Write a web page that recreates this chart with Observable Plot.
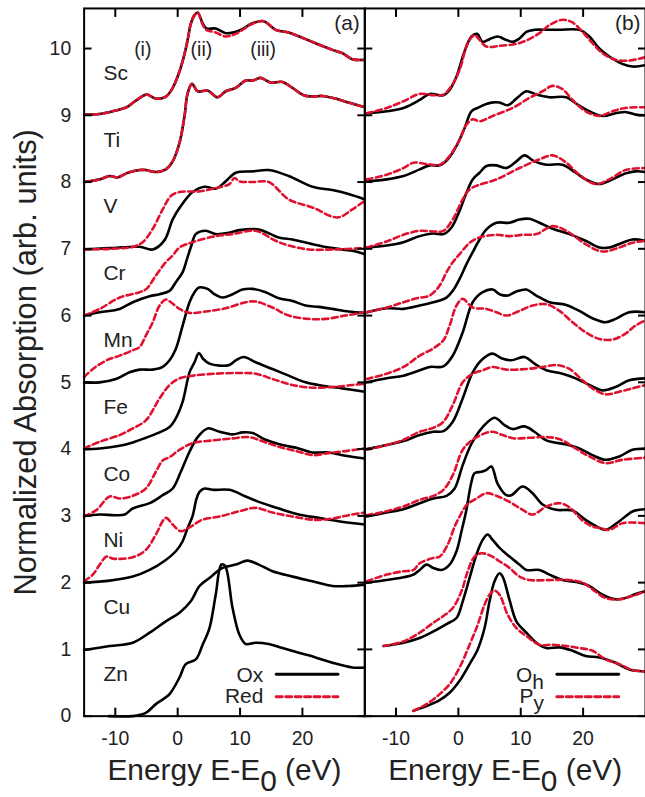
<!DOCTYPE html>
<html><head><meta charset="utf-8">
<script src="https://cdn.jsdelivr.net/npm/d3@7"></script>
<script src="https://cdn.jsdelivr.net/npm/@observablehq/plot@0.6"></script>
<style>
html,body{margin:0;padding:0;overflow:hidden;background:#fff;}
#chart{position:relative;width:645px;height:797px;overflow:hidden;}
</style>
</head><body><div id="chart"></div>
<script>
// ---------- categories & labels ----------
const elements = ["Sc","Ti","V","Cr","Mn","Fe","Co","Ni","Cu","Zn"];
const xTicks = [-10, 0, 10, 20];
const yTicks = [0,1,2,3,4,5,6,7,8,9,10];
const features = [{panel:"a", label:"(i)", x:-5.6},{panel:"a", label:"(ii)", x:3.8},{panel:"a", label:"(iii)", x:13.7}];
const panelTags = [{panel:"a", t:"(a)"},{panel:"b", t:"(b)"}];
const legendItems = [
  {panel:"a", label:"Ox", row:0},{panel:"a", label:"Red", row:1},
  {panel:"b", label:"O_h", row:0},{panel:"b", label:"P_y", row:1}
];
const xLabel = "Energy E-E_0 (eV)";
const yLabel = "Normalized Absorption (arb. units)";

// ---------- panel (a): Ox (solid) / Red (dashed) ----------
const aScOx = [[-15,9.01],[-12.5,9.02],[-10,9.07],[-8.2,9.12],[-6.7,9.22],[-5,9.31],[-3.5,9.25],[-1.9,9.28],[-0.8,9.41],[0.3,9.66],[1.1,9.92],[1.6,10.13],[2.1,10.37],[2.7,10.5],[3.2,10.54],[4.0,10.38],[4.6,10.3],[6.1,10.3],[7.7,10.23],[9.9,10.27],[12,10.38],[13.8,10.41],[15.7,10.28],[17.8,10.24],[20.5,10.14],[22.6,10.06],[24.8,9.98],[26.4,9.93],[28,9.84],[30,9.83]];
const aScRed = [[-15,9.01],[-12.5,9.02],[-10,9.07],[-8.2,9.12],[-6.7,9.22],[-5,9.31],[-3.5,9.25],[-1.9,9.28],[-0.8,9.41],[0.3,9.66],[1.1,9.92],[1.6,10.13],[2.1,10.37],[2.7,10.5],[3.2,10.54],[4.0,10.36],[4.6,10.28],[6.1,10.24],[7.7,10.18],[9.3,10.22],[12,10.37],[13.8,10.41],[15.7,10.28],[17.8,10.24],[20.5,10.14],[22.6,10.06],[24.8,9.98],[26.4,9.93],[28,9.84],[30,9.83]];
const aTiOx = [[-15,8.0],[-12.5,8.04],[-10.9,8.09],[-9.6,8.07],[-8,8.14],[-6.1,8.18],[-5.1,8.18],[-3.5,8.15],[-1.9,8.19],[-0.8,8.31],[0.3,8.59],[1.1,8.99],[1.6,9.33],[2.3,9.47],[3.2,9.36],[4.8,9.37],[6.4,9.27],[7.7,9.36],[9.3,9.41],[10.9,9.52],[12,9.52],[13.3,9.56],[14.9,9.49],[16.8,9.5],[18.4,9.41],[20.2,9.3],[21.6,9.28],[23.2,9.29],[25.3,9.25],[27.4,9.19],[30,9.12]];
const aTiRed = [[-15,8.0],[-12.5,8.04],[-10.9,8.09],[-9.6,8.07],[-8,8.14],[-6.1,8.18],[-5.1,8.18],[-3.5,8.15],[-1.9,8.19],[-0.8,8.31],[0.3,8.59],[1.1,8.99],[1.6,9.33],[2.3,9.47],[3.2,9.36],[4.8,9.37],[6.4,9.27],[7.7,9.36],[9.3,9.41],[10.9,9.52],[12,9.52],[13.3,9.56],[14.9,9.49],[16.8,9.5],[18.4,9.41],[20.2,9.3],[21.6,9.28],[23.2,9.29],[25.3,9.25],[27.4,9.19],[30,9.12]];
const aVOx = [[-15,6.99],[-10.9,7.01],[-6.1,7.03],[-4,6.99],[-2.1,7.13],[-0.8,7.44],[0.5,7.64],[2.4,7.85],[4.3,7.93],[6.1,7.9],[7.7,8.01],[9.3,8.14],[12,8.16],[14.6,8.18],[17.8,8.09],[21.6,7.93],[24.8,7.88],[27.4,7.82],[30,7.74]];
const aVRed = [[-15,6.99],[-10.9,7.0],[-7.2,7.03],[-5.6,7.1],[-4,7.3],[-2.4,7.59],[-1.1,7.79],[0.3,7.85],[3.5,7.86],[6.1,7.91],[8.3,7.97],[9.1,8.06],[9.9,8.01],[12,8.0],[14.6,8.0],[17.8,7.74],[21.6,7.62],[25.6,7.47],[28,7.59],[30,7.72]];
const aCrOx = [[-15,6.0],[-12.5,6.05],[-9.3,6.1],[-7.2,6.2],[-4.5,6.29],[-2.9,6.32],[-1.3,6.37],[-0.3,6.5],[0.8,6.65],[1.5,6.85],[2.2,7.05],[2.9,7.22],[4.5,7.27],[6.1,7.22],[8.2,7.24],[9.9,7.28],[13,7.29],[16.2,7.17],[18.4,7.14],[21.6,7.07],[24.8,7.01],[28,6.97],[30,6.92]];
const aCrRed = [[-15,6.0],[-12.5,6.1],[-9.3,6.27],[-6.1,6.35],[-5,6.4],[-3.5,6.6],[-1.9,6.8],[-0.8,6.9],[0.3,7.02],[2.4,7.1],[6.1,7.19],[8.8,7.22],[12.5,7.27],[15.7,7.12],[17.8,7.05],[21,6.99],[24.8,6.99],[30,7.01]];
const aMnOx = [[-15,5.0],[-12.5,5.0],[-9.9,5.05],[-7.7,5.15],[-6.1,5.19],[-4,5.19],[-2.4,5.23],[-1.3,5.33],[-0.3,5.5],[0.8,5.85],[1.9,6.2],[2.7,6.35],[3.4,6.42],[4.8,6.4],[5.9,6.32],[7.2,6.27],[8.8,6.32],[10.4,6.39],[12,6.4],[14.1,6.35],[16.2,6.26],[18.4,6.22],[20.5,6.15],[22.6,6.13],[24.8,6.1],[27.4,6.06],[30,6.04]];
const aMnRed = [[-15,5.08],[-13.6,5.2],[-11.4,5.33],[-9.3,5.4],[-7.2,5.48],[-6.1,5.53],[-5.1,5.7],[-4,5.9],[-2.9,6.15],[-1.9,6.24],[-1.1,6.2],[0.3,6.1],[1.9,6.04],[4.5,6.06],[7.7,6.11],[10.9,6.2],[12.5,6.21],[15.2,6.12],[17.8,6.0],[21,5.95],[23.7,5.95],[26.9,6.0],[30,6.05]];
const aFeOx = [[-15,4.0],[-12.5,4.01],[-9.3,4.05],[-7.2,4.1],[-5.1,4.17],[-2.9,4.25],[-1.3,4.33],[-0.3,4.46],[0.8,4.71],[1.9,5.15],[2.7,5.3],[3.4,5.44],[4.1,5.35],[5.1,5.28],[6.7,5.25],[8.3,5.26],[9.3,5.33],[10.6,5.38],[12.5,5.3],[15.2,5.2],[17.8,5.1],[20.5,5.0],[23.2,4.95],[26.4,4.91],[30,4.86]];
const aFeRed = [[-15,4.01],[-12.5,4.11],[-9.3,4.21],[-7.2,4.31],[-5.1,4.43],[-2.9,4.76],[-1.3,4.96],[0.3,5.06],[2.4,5.1],[6.1,5.13],[9.9,5.14],[12.5,5.13],[15.2,5.05],[18.4,4.96],[21.6,4.92],[24.8,4.93],[28,4.96],[30,4.98]];
const aCoOx = [[-15,3.0],[-12.5,3.02],[-10,3.01],[-8.5,3.02],[-7.2,3.11],[-4.5,3.19],[-2.4,3.31],[-0.8,3.41],[0.5,3.66],[1.9,3.96],[3.2,4.18],[4.8,4.31],[6.7,4.26],[8.8,4.22],[10.4,4.25],[12,4.24],[14.1,4.14],[16.8,4.06],[19.4,4.01],[21.6,3.95],[24.2,3.95],[26.9,3.9],[30,3.86]];
const aCoRed = [[-15,2.99],[-13,3.09],[-10.9,3.29],[-9.3,3.26],[-7.2,3.3],[-5.1,3.41],[-3.5,3.66],[-2.4,3.83],[-1.3,3.88],[0.3,3.99],[2.4,4.09],[5.6,4.13],[8.8,4.16],[11.4,4.18],[14.1,4.1],[16.8,4.02],[19.4,3.96],[21.6,3.91],[24.2,3.94],[26.9,3.97],[30,4.01]];
const aNiOx = [[-15,2.0],[-10.9,2.03],[-7.2,2.09],[-4.5,2.19],[-1.9,2.34],[-0.3,2.47],[0.8,2.62],[1.6,2.82],[2.4,3.0],[3.0,3.25],[3.5,3.36],[4.3,3.41],[5.6,3.39],[8.3,3.39],[10.9,3.29],[13,3.21],[16.2,3.11],[19.4,3.02],[22.6,2.97],[25.8,2.92],[30,2.87]];
const aNiRed = [[-15,2.02],[-13.6,2.12],[-12.5,2.27],[-11.4,2.39],[-10.4,2.36],[-7.2,2.38],[-5.1,2.49],[-3.5,2.72],[-1.9,2.97],[-0.8,2.87],[0.5,2.77],[2.1,2.84],[3.9,2.94],[6.7,2.99],[9.9,3.07],[12.5,3.12],[15.2,3.05],[18.4,2.99],[22.1,2.94],[24.8,2.96],[27.4,3.01],[30,3.05]];
const aCuOx = [[-15,0.99],[-10.9,1.05],[-7.2,1.1],[-4.5,1.25],[-1.9,1.42],[0.3,1.55],[2.1,1.72],[3.5,1.95],[5.1,2.07],[7.2,2.22],[9.3,2.27],[11.2,2.33],[13,2.27],[15.2,2.17],[18.4,2.09],[21.6,2.02],[24.8,1.95],[27.4,1.95],[30,1.97]];
const aZnOx = [[-11,0.0],[-7.2,0.0],[-5.1,0.05],[-3.5,0.18],[-2.4,0.25],[-1.3,0.33],[0.3,0.58],[1.3,0.78],[2.9,0.85],[4,1.07],[5.1,1.32],[6.1,1.82],[7.0,2.27],[7.6,2.25],[8.8,1.62],[9.9,1.22],[10.9,1.08],[12.5,1.1],[14.6,1.08],[16.8,1.02],[19.4,0.95],[22.1,0.88],[24.8,0.8],[28,0.73],[30,0.73]];

// ---------- panel (b): Oh (solid) / Py (dashed) ----------
const bScOh = [[-14.7,9.03],[-11.5,9.06],[-8.8,9.11],[-6.2,9.23],[-4.6,9.32],[-2.4,9.3],[-1.4,9.38],[-0.3,9.58],[1.0,9.96],[2.1,10.18],[3.0,10.22],[3.9,10.1],[5.0,10.14],[6.3,10.18],[7.4,10.14],[8.7,10.1],[9.8,10.15],[10.9,10.25],[12.2,10.28],[14.1,10.28],[16.2,10.28],[19.4,10.28],[21,10.18],[22.6,10.0],[24.2,9.88],[26.3,9.77],[27.9,9.73],[30,9.75]];
const bScPy = [[-14.7,9.03],[-11.5,9.11],[-8.8,9.21],[-6.2,9.32],[-4,9.3],[-2.4,9.31],[-1.1,9.44],[0.2,9.68],[1.5,10.08],[2.6,10.2],[3.4,10.13],[4.5,10.03],[6.6,10.04],[9.3,10.07],[10.9,10.12],[13,10.23],[14.6,10.35],[16.7,10.43],[18.3,10.39],[19.9,10.25],[21.5,10.08],[23.1,9.93],[25.2,9.83],[27.4,9.82],[30,9.87]];
const bTiOh = [[-14.7,8.01],[-11.5,8.04],[-8.8,8.09],[-6.2,8.19],[-4.6,8.25],[-3,8.25],[-1.7,8.34],[-0.3,8.54],[1.0,8.81],[2.1,9.06],[3.1,9.11],[4.2,9.16],[5.3,9.19],[6.6,9.19],[7.9,9.15],[9.3,9.25],[10.9,9.36],[12.5,9.31],[14.6,9.27],[17.3,9.27],[18.8,9.18],[21,9.06],[23.1,8.99],[25.2,9.03],[26.8,9.05],[28.4,9.01],[30,9.0]];
const bTiPy = [[-14.7,8.04],[-11.5,8.11],[-8.8,8.21],[-7.2,8.29],[-5.1,8.27],[-3,8.26],[-1.4,8.39],[0.2,8.64],[1.3,8.86],[2.3,8.94],[3.4,8.91],[5.5,8.99],[8.7,9.11],[11.4,9.26],[13.5,9.36],[15.1,9.44],[16.7,9.39],[18.3,9.23],[20.4,9.06],[22.6,8.99],[24.7,9.06],[26.8,9.11],[30,9.12]];
const bVOh = [[-14.7,7.02],[-11.5,7.05],[-8.8,7.1],[-6.2,7.19],[-4,7.23],[-2.4,7.22],[-1.1,7.32],[0.2,7.57],[1.3,7.84],[2.3,8.04],[3.4,8.14],[4.5,8.24],[6.1,8.25],[7.7,8.21],[9.3,8.31],[10.6,8.4],[12.2,8.31],[14.1,8.26],[16.7,8.26],[18.8,8.14],[20.4,8.04],[22.6,7.97],[24.7,8.04],[26.8,8.13],[28.4,8.16],[30,8.15]];
const bVPy = [[-14.7,7.02],[-11.5,7.11],[-8.8,7.21],[-6.2,7.27],[-4,7.26],[-2.4,7.27],[-0.9,7.44],[0.7,7.74],[1.8,7.89],[3.1,7.95],[6.1,8.04],[9.8,8.21],[13,8.34],[15.1,8.4],[17.3,8.29],[19.4,8.11],[22,7.97],[24.2,8.04],[26.8,8.18],[30,8.21]];
const bCrOh = [[-14.7,6.05],[-11.5,6.11],[-8.8,6.1],[-6.2,6.15],[-4,6.2],[-1.9,6.27],[-0.9,6.37],[0.2,6.55],[1.3,6.77],[2.3,6.95],[3.4,7.14],[4.5,7.29],[6.1,7.39],[8.2,7.39],[9.8,7.44],[11.4,7.45],[13,7.39],[15.1,7.3],[17.8,7.22],[20.4,7.12],[22.6,7.02],[24.2,7.02],[26.3,7.09],[27.9,7.14],[30,7.12]];
const bCrPy = [[-14.7,6.05],[-11.5,6.12],[-8.8,6.2],[-6.7,6.26],[-4.6,6.3],[-3,6.45],[-1.9,6.65],[-0.9,6.8],[0.2,6.92],[1.8,7.09],[3.4,7.17],[6.1,7.21],[8.2,7.19],[10.3,7.21],[12.5,7.22],[15.1,7.34],[17.3,7.27],[20.4,7.07],[23.1,6.96],[25.8,7.02],[27.9,7.09],[30,7.12]];
const bMnOh = [[-14.7,5.0],[-11.5,5.06],[-8.8,5.1],[-6.2,5.18],[-4.6,5.23],[-2.4,5.24],[-0.9,5.4],[0.7,5.75],[2.3,6.2],[3.9,6.35],[5.5,6.39],[6.6,6.32],[7.9,6.3],[9.3,6.36],[10.9,6.39],[12.5,6.3],[14.6,6.2],[17.3,6.16],[19.4,6.07],[21.5,5.96],[23.6,5.9],[25.2,5.95],[27.4,6.05],[30,6.05]];
const bMnPy = [[-14.7,5.05],[-11.5,5.13],[-8.8,5.23],[-6.2,5.4],[-4,5.51],[-2.4,5.63],[-1.4,5.85],[-0.3,6.15],[0.7,6.25],[2.3,6.12],[4.5,6.1],[6.1,6.05],[7.7,6.0],[9.8,6.07],[11.9,6.15],[14.1,6.17],[16.2,6.07],[18.3,5.9],[20.4,5.75],[22.6,5.65],[24.7,5.64],[26.8,5.73],[28.4,5.85],[30,5.93]];
const bFeOh = [[-14.7,4.0],[-11.5,4.06],[-8.8,4.12],[-6.2,4.21],[-4,4.26],[-2.4,4.27],[-0.9,4.41],[0.7,4.76],[2.3,5.15],[3.9,5.35],[5.5,5.43],[6.9,5.36],[8.5,5.33],[10.6,5.38],[12.2,5.28],[14.1,5.18],[16.7,5.13],[18.8,5.06],[21,4.96],[23.1,4.88],[25.2,4.93],[27.4,5.03],[30,5.06]];
const bFePy = [[-14.7,3.99],[-11.5,4.06],[-8.8,4.14],[-6.2,4.26],[-4,4.32],[-2.4,4.41],[-0.9,4.66],[0.7,5.0],[2.3,5.13],[3.9,5.18],[5.5,5.23],[7.7,5.19],[10.9,5.2],[13.5,5.23],[15.7,5.26],[17.8,5.2],[19.9,5.03],[21.5,4.91],[23.6,4.82],[25.8,4.86],[27.9,4.91],[30,4.96]];
const bCoOh = [[-14.7,2.99],[-11.5,3.05],[-8.8,3.1],[-6.2,3.19],[-4,3.26],[-1.9,3.3],[-0.6,3.41],[0.7,3.76],[2.1,4.08],[3.9,4.33],[5.8,4.47],[7.4,4.36],[8.7,4.3],[10.6,4.34],[12.2,4.26],[14.1,4.13],[17.3,4.07],[19.4,4.01],[21.5,3.91],[23.6,3.84],[25.8,3.89],[27.9,3.99],[30,4.01]];
const bCoPy = [[-14.7,3.01],[-11.5,3.07],[-8.8,3.14],[-6.2,3.24],[-4,3.3],[-2.4,3.39],[-0.9,3.61],[0.7,3.99],[2.3,4.14],[5.3,4.26],[7.1,4.21],[9,4.16],[11.4,4.17],[14.1,4.18],[16.2,4.15],[18.8,4.01],[21,3.89],[23.6,3.79],[26.3,3.84],[30,3.87]];
const bNiOh = [[-14.7,2.0],[-11.5,2.04],[-8.8,2.08],[-7.2,2.12],[-6.2,2.19],[-5.1,2.27],[-4,2.22],[-2.7,2.19],[-1.4,2.27],[-0.3,2.47],[0.5,2.77],[1.2,3.05],[2.1,3.51],[2.6,3.64],[3.7,3.66],[4.5,3.69],[5.3,3.74],[6.3,3.48],[7.7,3.31],[8.5,3.31],[10.3,3.44],[11.9,3.34],[13.5,3.17],[15.7,3.09],[18.3,3.08],[20.4,2.94],[22.6,2.82],[23.6,2.79],[25.8,2.92],[28,3.07],[30,3.1]];
const bNiPy = [[-14.7,2.02],[-11.5,2.12],[-8.8,2.17],[-7.2,2.19],[-6.2,2.29],[-4,2.37],[-3,2.39],[-1.7,2.57],[-0.6,2.84],[0.2,2.99],[1.3,3.16],[2.9,3.26],[4.5,3.34],[6.1,3.3],[8.2,3.21],[10.3,3.09],[11.9,3.02],[14.1,3.14],[16.2,3.19],[17.8,3.13],[19.9,2.93],[21.5,2.84],[22.6,2.82],[24.2,2.79],[26.3,2.89],[30,2.89]];
const bCuOh = [[-12,1.05],[-8.8,1.1],[-6.2,1.17],[-4,1.27],[-1.9,1.38],[-0.3,1.47],[0.7,1.72],[1.8,2.07],[2.9,2.42],[3.9,2.64],[4.7,2.72],[5.5,2.64],[6.6,2.52],[8.2,2.39],[9.8,2.27],[10.9,2.19],[13,2.19],[14.6,2.12],[16.7,2.04],[19.4,2.0],[21,1.95],[23.1,1.82],[25.2,1.75],[26.8,1.77],[28.4,1.83],[30,1.87]];
const bCuPy = [[-12,1.05],[-8.8,1.12],[-6.2,1.25],[-4,1.4],[-2.4,1.5],[-0.9,1.62],[0.5,1.87],[1.5,2.17],[2.6,2.39],[3.7,2.44],[5.0,2.41],[6.6,2.32],[8.2,2.22],[9.8,2.09],[11.4,2.04],[15.1,2.04],[17.8,2.04],[19.9,2.0],[21.5,1.9],[23.6,1.77],[25.8,1.75],[27.9,1.8],[30,1.87]];
const bZnOh = [[-7.2,0.08],[-5.1,0.15],[-3,0.24],[-1.4,0.35],[0.2,0.53],[1.8,0.78],[3.1,1.0],[4.2,1.32],[5.0,1.72],[5.8,2.02],[6.6,2.14],[7.1,2.09],[8.2,1.74],[9.3,1.42],[10.9,1.25],[12.5,1.1],[14.1,1.02],[16.2,1.03],[18.3,0.98],[20.4,0.9],[22.6,0.88],[25.2,0.8],[27.4,0.7],[30,0.67]];
const bZnPy = [[-7.2,0.08],[-5.1,0.18],[-3,0.33],[-1.4,0.48],[0.2,0.73],[1.8,1.07],[3.1,1.37],[4.2,1.67],[5.0,1.82],[5.8,1.88],[6.6,1.82],[7.9,1.52],[9.3,1.32],[10.9,1.2],[13,1.07],[15.1,1.07],[17.3,1.05],[19.4,1.02],[21.5,0.98],[23.6,0.85],[25.8,0.78],[27.9,0.69],[30,0.67]];

// ---------- assemble ----------
const seriesList = [
  ["a","Sc","solid",aScOx],["a","Sc","dash",aScRed],["a","Ti","solid",aTiOx],["a","Ti","dash",aTiRed],
  ["a","V","solid",aVOx],["a","V","dash",aVRed],["a","Cr","solid",aCrOx],["a","Cr","dash",aCrRed],
  ["a","Mn","solid",aMnOx],["a","Mn","dash",aMnRed],["a","Fe","solid",aFeOx],["a","Fe","dash",aFeRed],
  ["a","Co","solid",aCoOx],["a","Co","dash",aCoRed],["a","Ni","solid",aNiOx],["a","Ni","dash",aNiRed],
  ["a","Cu","solid",aCuOx],["a","Zn","solid",aZnOx],
  ["b","Sc","solid",bScOh],["b","Sc","dash",bScPy],["b","Ti","solid",bTiOh],["b","Ti","dash",bTiPy],
  ["b","V","solid",bVOh],["b","V","dash",bVPy],["b","Cr","solid",bCrOh],["b","Cr","dash",bCrPy],
  ["b","Mn","solid",bMnOh],["b","Mn","dash",bMnPy],["b","Fe","solid",bFeOh],["b","Fe","dash",bFePy],
  ["b","Co","solid",bCoOh],["b","Co","dash",bCoPy],["b","Ni","solid",bNiOh],["b","Ni","dash",bNiPy],
  ["b","Cu","solid",bCuOh],["b","Cu","dash",bCuPy],["b","Zn","solid",bZnOh],["b","Zn","dash",bZnPy]
];
const rows = [];
for (const [panel, el, style, pts] of seriesList)
  for (const [x, y] of pts) rows.push({panel, el, style, key: panel + el + style, x, y});

const elementLabels = elements.map((e, i) => ({panel: "a", el: e, base: elements.length - 1 - i}));

const RED = "#e0102f";
const FONT = "'Liberation Sans', Arial, Helvetica, sans-serif";
const TXT = "#222";
const lineShape = {draw(ctx, l) { ctx.moveTo(0, 0); ctx.lineTo(0, -l); }};

const chart = Plot.plot({
  width: 648, height: 797,
  marginLeft: 83, marginRight: 0, marginTop: 8, marginBottom: 78,
  style: {fontFamily: FONT, background: "#fff", color: "#000", overflow: "visible"},
  x: {domain: [-15, 30]},
  y: {domain: [0, 10.6]},
  fx: {domain: ["a", "b"], padding: 0, axis: null},
  marks: [
    Plot.line(rows.filter(d => d.style === "solid"), {x: "x", y: "y", z: "key", fx: "panel", stroke: "#000", strokeWidth: 2.6, curve: "catmull-rom"}),
    Plot.line(rows.filter(d => d.style === "dash"), {x: "x", y: "y", z: "key", fx: "panel", stroke: RED, strokeWidth: 2.6, strokeDasharray: "6,3.5", curve: "catmull-rom"}),
    Plot.frame({stroke: "#000", strokeWidth: 2}),
    // tick labels
    Plot.axisY(yTicks, {anchor: "left", tickSize: 0, tickPadding: 13, tickFormat: d => String(d), fontSize: 19.5, fill: TXT, label: null}),
    Plot.axisX(xTicks, {anchor: "bottom", tickSize: 0, tickPadding: 15, tickFormat: d => String(d), fontSize: 19.5, fill: TXT, label: null}),
    // inward ticks on all four sides
    Plot.axisY(yTicks, {anchor: "left", tickSize: -8, fill: null, facetAnchor: null, strokeWidth: 2}),
    Plot.axisY(yTicks, {anchor: "right", tickSize: -8, fill: null, facetAnchor: null, strokeWidth: 2}),
    Plot.axisX(xTicks, {anchor: "bottom", tickSize: -8, fill: null, strokeWidth: 2}),
    Plot.axisX(xTicks, {anchor: "top", tickSize: -8, fill: null, strokeWidth: 2}),
    // axis titles
    Plot.text([{panel: "a", t: yLabel}], {fx: "panel", text: "t", frameAnchor: "left", rotate: -90, dx: -48, lineAnchor: "bottom", textAnchor: "middle", fontSize: 31, fill: TXT}),
    Plot.text([xLabel], {text: d => d, frameAnchor: "bottom", dy: 64, lineAnchor: "bottom", textAnchor: "middle", fontSize: 30, fill: TXT}),
    // element labels
    Plot.text(elementLabels, {fx: "panel", y: "base", text: "el", frameAnchor: "left", dx: 19.5, dy: -35.5, lineAnchor: "bottom", textAnchor: "start", fontSize: 21, fill: TXT}),
    // feature labels
    Plot.text(features, {fx: "panel", x: "x", text: "label", frameAnchor: "top", dy: 48, lineAnchor: "bottom", fontSize: 19.5, fill: TXT}),
    // panel tags
    Plot.text(panelTags, {fx: "panel", text: "t", frameAnchor: "top-right", dx: -5, dy: 22, lineAnchor: "bottom", textAnchor: "end", fontSize: 21, fill: TXT}),
    // legends
    Plot.text(legendItems.filter(d => d.row === 0), {fx: "panel", text: "label", frameAnchor: "bottom-right", dx: -102, dy: -41.5, lineAnchor: "middle", textAnchor: "end", fontSize: 21, fill: TXT}),
    Plot.text(legendItems.filter(d => d.row === 1), {fx: "panel", text: "label", frameAnchor: "bottom-right", dx: -102, dy: -20, lineAnchor: "middle", textAnchor: "end", fontSize: 21, fill: TXT}),
    Plot.vector(legendItems.filter(d => d.row === 0), {fx: "panel", frameAnchor: "bottom-right", dx: -89, dy: -42, length: 62, rotate: 90, anchor: "start", shape: lineShape, stroke: "#000", strokeWidth: 3}),
    Plot.vector(legendItems.filter(d => d.row === 1), {fx: "panel", frameAnchor: "bottom-right", dx: -89, dy: -19.5, length: 62, rotate: 90, anchor: "start", shape: lineShape, stroke: RED, strokeWidth: 3, strokeDasharray: "6,3.5"})
  ]
});

// subscripts: "X_s" -> X with lowered s
d3.select(chart).selectAll("text").each(function() {
  const t = this.textContent;
  if (!t || !t.includes("_")) return;
  const parts = t.split(/_(.)/);
  const sel = d3.select(this);
  sel.text(null);
  parts.forEach((p, i) => {
    if (!p) return;
    const ts = sel.append("tspan").text(p);
    if (i % 2 === 1) ts.attr("dy", "0.36em");
    else if (i > 0) ts.attr("dy", "-0.36em");
  });
});

document.getElementById("chart").append(chart);
</script>
</body></html>
